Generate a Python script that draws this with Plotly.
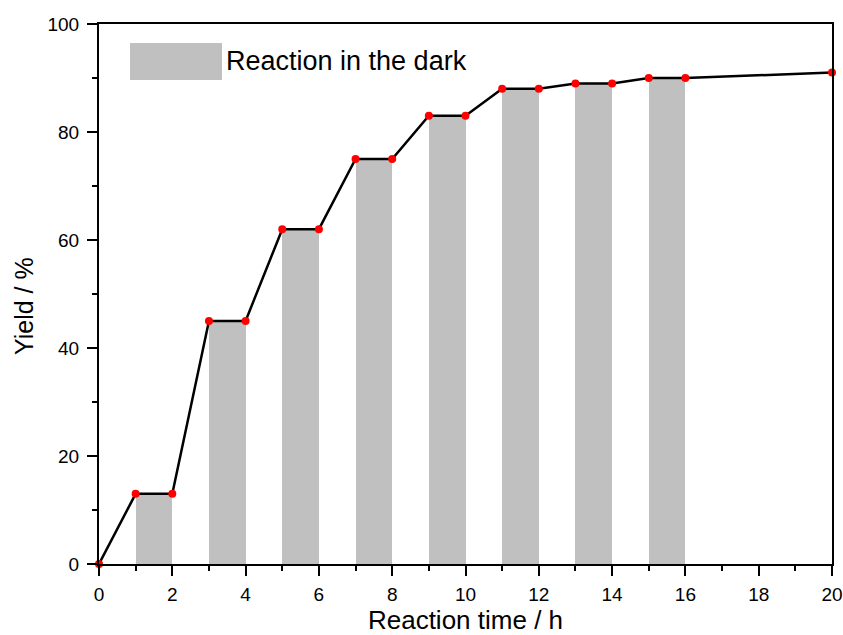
import plotly.graph_objects as go

# Line data
time_h = [0, 1, 2, 3, 4, 5, 6, 7, 8, 9, 10, 11, 12, 13, 14, 15, 16, 20]
yield_pct = [0, 13, 13, 45, 45, 62, 62, 75, 75, 83, 83, 88, 88, 89, 89, 90, 90, 91]

# Dark periods (bars)
dark_start = [1, 3, 5, 7, 9, 11, 13, 15]
dark_end = [2, 4, 6, 8, 10, 12, 14, 16]
dark_yield = [13, 45, 62, 75, 83, 88, 89, 90]

legend_label = "Reaction in the dark"
x_title = "Reaction time / h"
y_title = "Yield / %"
bar_color = "#c0c0c0"
font_family = "Liberation Sans, Arial, sans-serif"

fig = go.Figure()
fig.add_trace(go.Bar(
    x=[(a + b) / 2 for a, b in zip(dark_start, dark_end)],
    y=dark_yield,
    width=[b - a for a, b in zip(dark_start, dark_end)],
    marker=dict(color=bar_color, line=dict(width=0)),
    showlegend=False,
))
fig.add_trace(go.Scatter(
    x=time_h, y=yield_pct, mode="lines+markers",
    line=dict(color="black", width=2.5),
    marker=dict(color="red", size=8),
    showlegend=False,
    cliponaxis=False,
))

# Legend drawn as a box + label
fig.add_shape(type="rect", xref="paper", yref="paper",
              x0=(130 - 99) / 733, x1=(222 - 99) / 733,
              y0=(564 - 80) / 540, y1=(564 - 43) / 540,
              fillcolor=bar_color, line=dict(width=0))
fig.add_annotation(xref="paper", yref="paper",
                   x=(224 - 99) / 733, y=(564 - 61.5) / 540,
                   xanchor="left", yanchor="middle",
                   text=legend_label, showarrow=False,
                   font=dict(size=27, color="black", family=font_family))

# Y-axis title (placed slightly below centre as in the original)
fig.add_annotation(xref="paper", yref="paper",
                   x=(24 - 99) / 733, y=(564 - 306) / 540,
                   xanchor="center", yanchor="middle", textangle=-90,
                   text=y_title, showarrow=False,
                   font=dict(size=25, color="black", family=font_family))

fig.update_layout(
    width=843, height=635,
    margin=dict(l=99, r=11, t=24, b=71),
    plot_bgcolor="white", paper_bgcolor="white",
    font=dict(family=font_family, color="black", size=19),
    bargap=0,
)
fig.update_xaxes(
    range=[0, 20], tickmode="linear", tick0=0, dtick=2,
    showgrid=False, zeroline=False, automargin=False,
    showline=True, linecolor="black", linewidth=2, mirror=True,
    ticks="outside", ticklen=10, tickwidth=2, tickcolor="black",
    minor=dict(ticks="outside", ticklen=5, tickwidth=2, dtick=1, tickcolor="black", showgrid=False),
    tickfont=dict(size=19), ticklabelstandoff=2,
    title=dict(text=x_title, font=dict(size=26), standoff=7),
)
fig.update_yaxes(
    range=[0, 100], tickmode="linear", tick0=0, dtick=20,
    showgrid=False, zeroline=False, automargin=False,
    showline=True, linecolor="black", linewidth=2, mirror=True,
    ticks="outside", ticklen=10, tickwidth=2, tickcolor="black",
    minor=dict(ticks="outside", ticklen=5, tickwidth=2, dtick=10, tickcolor="black", showgrid=False),
    tickfont=dict(size=19), ticklabelstandoff=4,
)

fig.write_html("out.html")
